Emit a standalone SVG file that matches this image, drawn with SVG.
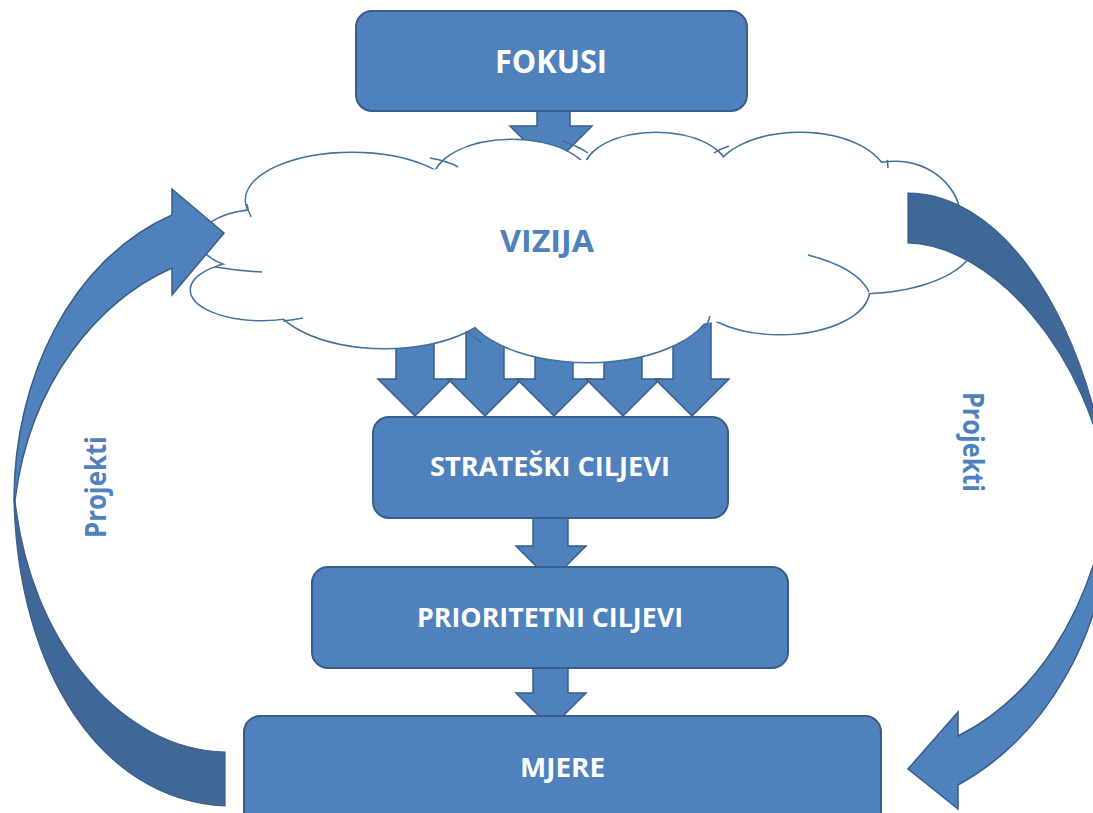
<svg xmlns="http://www.w3.org/2000/svg" width="1093" height="813" viewBox="0 0 1093 813">
<style>
.box{fill:#4F81BD;stroke:#385D8A;stroke-width:2}
.arr{fill:#4F81BD;stroke:#385D8A;stroke-width:1.5;stroke-linejoin:miter}
.dark{fill:#3F6797;stroke:#385D8A;stroke-width:1.2}
.lbl{font-family:"Open Sans","Liberation Sans",sans-serif;font-weight:bold;fill:#FFFFFF;text-anchor:middle}
.blue{font-family:"Open Sans","Liberation Sans",sans-serif;font-weight:bold;fill:#4F81BD;text-anchor:middle}
.cs{fill:none;stroke:#41719C;stroke-width:3}
.cf{fill:#FFFFFF;stroke:none}
.hook{fill:none;stroke:#41719C;stroke-width:1.5}
</style>
<rect width="1093" height="813" fill="#FFFFFF"/>
<g id="connectors">
  <path class="arr" d="M537 108 L570 108 L570 126 L592 126 L551 167 L510 126 L537 126 Z"/>
  <path class="arr" d="M396 300 L434 300 L434 379 L452 379 L415 416 L378 379 L396 379 Z"/>
  <path class="arr" d="M466 300 L504 300 L504 379 L522 379 L485 416 L448 379 L466 379 Z"/>
  <path class="arr" d="M535 300 L573 300 L573 379 L591 379 L554 416 L517 379 L535 379 Z"/>
  <path class="arr" d="M604 300 L642 300 L642 379 L660 379 L623 416 L586 379 L604 379 Z"/>
  <path class="arr" d="M673 300 L711 300 L711 379 L729 379 L692 416 L655 379 L673 379 Z"/>
  <path class="arr" d="M533 517 L568 517 L568 546 L586 546 L551 581 L516 546 L533 546 Z"/>
  <path class="arr" d="M533 667 L568 667 L568 693 L586 693 L551 728 L516 693 L533 693 Z"/>
</g>
<g id="vizija">
  <g>
    <ellipse class="cs" cx="352" cy="200" rx="106" ry="47"/>
    <ellipse class="cs" cx="512" cy="180" rx="78" ry="40"/>
    <ellipse class="cs" cx="656" cy="170" rx="71" ry="37"/>
    <ellipse class="cs" cx="800" cy="180" rx="87" ry="47"/>
    <ellipse class="cs" cx="895" cy="220" rx="65" ry="58"/>
    <ellipse class="cs" cx="860" cy="240" rx="115" ry="53"/>
    <ellipse class="cs" cx="780" cy="290" rx="89" ry="44"/>
    <ellipse class="cs" cx="588" cy="300" rx="125" ry="62"/>
    <ellipse class="cs" cx="385" cy="292" rx="115" ry="56"/>
    <ellipse class="cs" cx="262" cy="290" rx="71" ry="30"/>
    <ellipse class="cs" cx="262" cy="240" rx="62" ry="30"/>
  </g>
  <g>
    <ellipse class="cf" cx="352" cy="200" rx="106" ry="47"/>
    <ellipse class="cf" cx="512" cy="180" rx="78" ry="40"/>
    <ellipse class="cf" cx="656" cy="170" rx="71" ry="37"/>
    <ellipse class="cf" cx="800" cy="180" rx="87" ry="47"/>
    <ellipse class="cf" cx="895" cy="220" rx="65" ry="58"/>
    <ellipse class="cf" cx="860" cy="240" rx="115" ry="53"/>
    <ellipse class="cf" cx="780" cy="290" rx="89" ry="44"/>
    <ellipse class="cf" cx="588" cy="300" rx="125" ry="62"/>
    <ellipse class="cf" cx="385" cy="292" rx="115" ry="56"/>
    <ellipse class="cf" cx="262" cy="290" rx="71" ry="30"/>
    <ellipse class="cf" cx="262" cy="240" rx="62" ry="30"/>
    <ellipse class="cf" cx="580" cy="245" rx="320" ry="85"/>
  </g>
  <path class="hook" d="M808 255 Q858 268 869 292"/>
  <path class="hook" d="M466 331 Q474 337 482 343"/>
  <path class="hook" d="M430 158 Q448 161 458 167"/>
  <path class="hook" d="M562 141 Q578 146 588 153"/>
  <path class="hook" d="M714 153 Q720 149 729 146"/>
  <path class="hook" d="M247 204 Q248 211 251 217"/>
  <path class="hook" d="M215 267 Q240 271 262 272"/>
  <path class="hook" d="M283 321 Q293 320 303 318"/>
  <path class="hook" d="M703 330 Q708 324 710 316"/>
  <path class="hook" d="M887 160 Q888 164 888 168"/>
  <text class="blue" x="547" y="252" font-size="30" textLength="94" lengthAdjust="spacingAndGlyphs">VIZIJA</text>
</g>
<g id="fokusi">
  <rect class="box" x="356" y="11" width="391" height="100" rx="16"/>
  <text class="lbl" x="551" y="73" font-size="33" textLength="112" lengthAdjust="spacingAndGlyphs">FOKUSI</text>
</g>
<g id="strateski">
  <rect class="box" x="373" y="417" width="355" height="101" rx="16"/>
  <text class="lbl" x="550" y="476" font-size="26" textLength="240" lengthAdjust="spacingAndGlyphs">STRATEŠKI CILJEVI</text>
</g>
<g id="prioritetni">
  <rect class="box" x="312" y="567" width="476" height="101" rx="16"/>
  <text class="lbl" x="550" y="627" font-size="26" textLength="266" lengthAdjust="spacingAndGlyphs">PRIORITETNI CILJEVI</text>
</g>
<g id="mjere">
  <rect class="box" x="244" y="716" width="637" height="130" rx="16"/>
  <text class="lbl" x="562.5" y="777" font-size="26" textLength="85" lengthAdjust="spacingAndGlyphs">MJERE</text>
</g>
<g id="left-arrow">
  <path class="dark" d="M225 752 C120 750 30 640 15 500 L14 500 C18 670 100 800 225 806 Z"/>
  <path class="arr" d="M14 500 C14 380 70 260 172 215 L172 189 L224 233 L172 295 L172 268 C100 300 30 380 15 500 Z"/>
  <text class="blue" transform="translate(106,487) rotate(-90)" x="0" y="0" font-size="28" textLength="102" lengthAdjust="spacingAndGlyphs">Projekti</text>
</g>
<g id="right-arrow">
  <path class="dark" d="M908 193 C990 193 1080 290 1112 495 L1110 495 C1090 350 990 245 908 243 Z"/>
  <path class="arr" d="M1112 495 C1110 640 1040 740 958 785 L958 809 L908 769 L958 712 L958 736 C1030 700 1090 620 1110 495 Z"/>
  <text class="blue" transform="translate(963,442) rotate(90)" x="0" y="0" font-size="28" textLength="100" lengthAdjust="spacingAndGlyphs">Projekti</text>
</g>
</svg>
